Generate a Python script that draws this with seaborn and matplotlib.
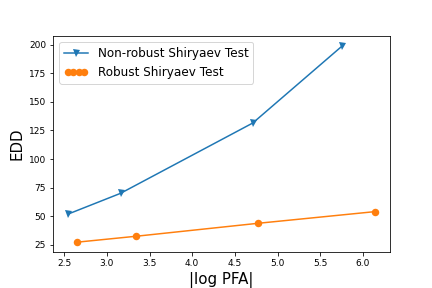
import matplotlib
matplotlib.use('Agg')
import matplotlib.pyplot as plt
import seaborn as sns
from matplotlib.legend_handler import HandlerLine2D

# |log PFA| vs EDD for the two detectors
x_nonrobust = [2.55, 3.16, 4.71, 5.76]
edd_nonrobust = [52, 70, 131.5, 199]
x_robust = [2.65, 3.345, 4.77, 6.14]
edd_robust = [27.3, 32.5, 43.8, 54]

plt.rcParams['font.family'] = ['DejaVu Sans']

fig, ax = plt.subplots(figsize=(6, 4), dpi=72)
fig.subplots_adjust(left=0.123, right=0.903, top=0.875, bottom=0.125)
sns.lineplot(x=x_nonrobust, y=edd_nonrobust, marker='v', markersize=7,
             markeredgewidth=0, color='#1f77b4', label='Non-robust Shiryaev Test', ax=ax)
sns.lineplot(x=x_robust, y=edd_robust, marker='o', markersize=7.5,
             markeredgewidth=0, color='#ff7f0e', label='Robust Shiryaev Test', ax=ax)

handles, labels = ax.get_legend_handles_labels()
ax.legend(handles, labels, loc='upper left', fontsize=12,
          handler_map={handles[1]: HandlerLine2D(numpoints=4)})
ax.set_xlabel('|log PFA|', fontsize=15)
ax.set_ylabel('EDD', fontsize=15)
ax.tick_params(labelsize=9)

fig.savefig('out.png', dpi=72)
